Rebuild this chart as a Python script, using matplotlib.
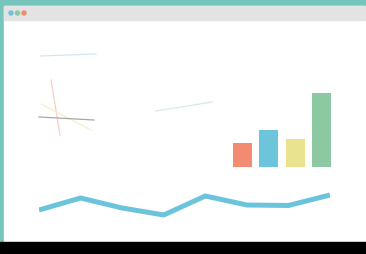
import matplotlib.pyplot as plt
from matplotlib.patches import Rectangle, Circle

# data
bar_values = [24, 37, 28, 74]
bar_colors = ['#f28b71', '#6cc5db', '#e9e28f', '#8cc9a3']
line_values = [20, 32, 22, 15, 34, 25, 24.5, 35]

# faint decorative strokes (x0, y0, x1, y1) in window pixels
strokes = [
    (40, 56, 96, 54, '#cfe9f0'),
    (156, 111, 212, 102, '#d6ece3'),
    (51, 80, 60, 135, '#f6cfc6'),
    (41, 104, 91, 130, '#f3efcf'),
    (39, 117, 94, 120, '#a8a8a8'),
]

W, H = 366, 254
fig = plt.figure(figsize=(W / 100, H / 100), dpi=100)
fig.patch.set_facecolor('#76c5bd')

def px_axes(x0, y0, x1, y1):
    return fig.add_axes([x0 / W, 1 - y1 / H, (x1 - x0) / W, (y1 - y0) / H])

# frame: window, header, dots, black strip
ax = px_axes(0, 0, W, H)
ax.set_xlim(0, W)
ax.set_ylim(H, 0)
ax.axis('off')
ax.add_patch(Rectangle((4, 6), 361, 236, color='white'))
ax.add_patch(Rectangle((4, 6), 361, 14, color='#e3e3e3'))
for cx, c in zip([11, 17.5, 24], ['#6cc5db', '#8cc9a3', '#f28b71']):
    ax.add_patch(Circle((cx, 13), 2, color=c))
ax.add_patch(Rectangle((0, 242), W, 12, color='black'))
for x0, y0, x1, y1, c in strokes:
    ax.plot([x0, x1], [y0, y1], color=c, lw=0.9)

# bars
bx = px_axes(229.5, 80, 334.5, 167)
bx.bar(range(len(bar_values)), bar_values, width=0.72, color=bar_colors)
bx.set_xlim(-0.5, 3.5)
bx.set_ylim(0, 87)
bx.axis('off')

# line
lx = px_axes(39, 185, 330, 230)
lx.plot(range(len(line_values)), line_values, color='#6cc4dc', lw=3.6,
        solid_joinstyle='miter', solid_capstyle='butt')
lx.set_xlim(0, len(line_values) - 1)
lx.set_ylim(0, 45)
lx.axis('off')

fig.savefig('out.png', dpi=100, facecolor=fig.get_facecolor())
